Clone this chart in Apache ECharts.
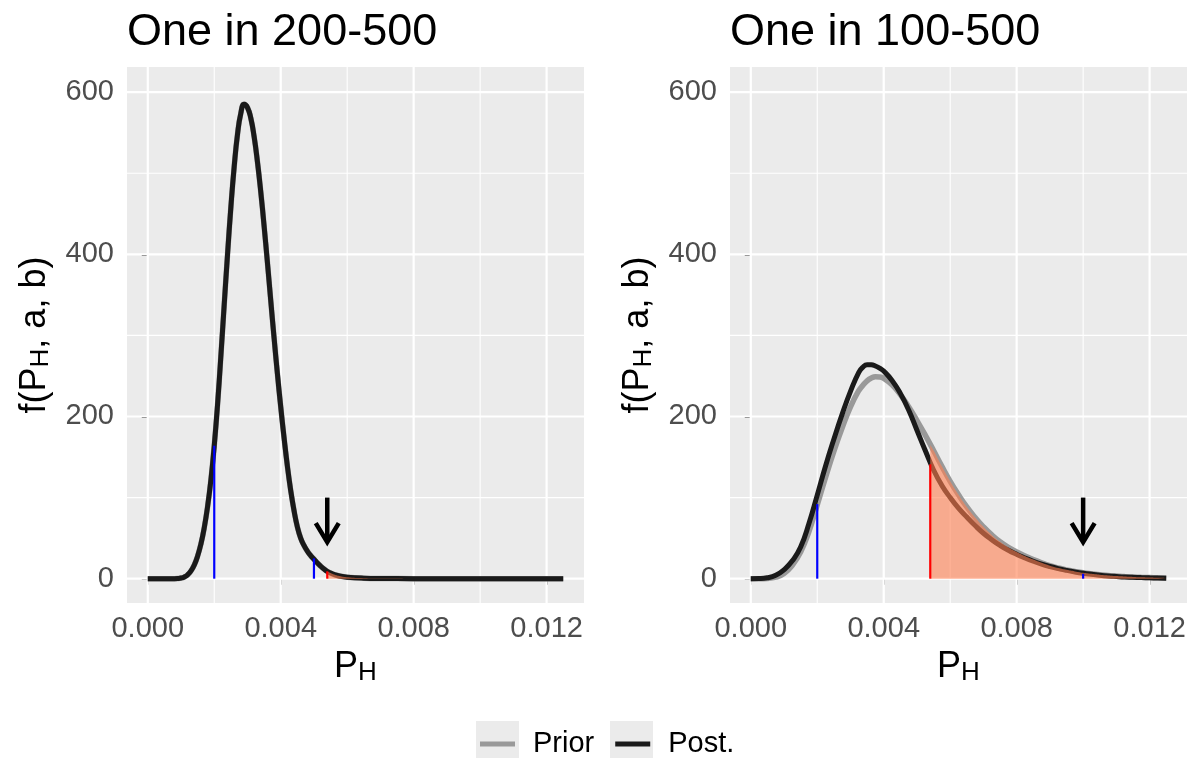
<!DOCTYPE html>
<html><head><meta charset="utf-8">
<script src="https://cdn.jsdelivr.net/npm/echarts@6/dist/echarts.min.js"></script>
<style>html,body{margin:0;padding:0;background:#fff}#c{width:1195px;height:758px}</style>
</head><body><div id="c"></div>
<script>
// ---------- data ----------
const titles = ['One in 200-500', 'One in 100-500'];
const seriesNames = ['Prior', 'Post.'];
const xTicks = [0, 0.004, 0.008, 0.012];
const xMinor = [0.002, 0.006, 0.010];
const yTicks = [0, 200, 400, 600];
const yMinor = [100, 300, 500];

const leftX = [0, 0.0005, 0.0008, 0.0009, 0.0010, 0.0011, 0.0012, 0.0013, 0.0014, 0.0015, 0.0016, 0.0017, 0.0018, 0.0019,
  0.0020, 0.0021, 0.0022, 0.0023, 0.0024, 0.0025, 0.0026, 0.0027, 0.0028, 0.0029, 0.0030, 0.0031, 0.0032, 0.0033, 0.0034,
  0.0035, 0.0036, 0.0037, 0.0038, 0.0039, 0.0040, 0.0041, 0.0042, 0.0043, 0.0044, 0.0045, 0.0046, 0.0047, 0.0048, 0.0049,
  0.0050, 0.0051, 0.0052, 0.0053, 0.0054, 0.0055, 0.0056, 0.0058, 0.0060, 0.0065, 0.0070, 0.0080, 0.0090, 0.0100, 0.0110, 0.0125];
const leftPrior = [0, 0, 0.05, 0.25, 0.8, 2.1, 4.8, 9.5, 17, 28, 43, 63, 89, 122,
  164, 215, 275, 338, 400, 458, 508, 548, 574, 585, 581, 568, 545, 514, 477,
  435, 390, 343, 297, 253, 212, 174, 139, 109, 84, 64, 50, 41, 34, 28.5,
  24, 19.5, 15.5, 12, 9, 7, 5.2, 3, 1.8, 0.6, 0.2, 0.03, 0, 0, 0, 0];
const leftPost = [0, 0, 0.05, 0.25, 0.8, 2.1, 4.8, 9.5, 17, 28, 43, 63, 89, 122,
  164, 215, 275, 338, 400, 458, 508, 548, 574, 585, 581, 568, 545, 514, 477,
  435, 390, 343, 297, 253, 212, 174, 139, 109, 84, 64, 50, 41, 34, 28.5,
  24, 19.5, 15.5, 12, 9, 7, 5.2, 3, 1.8, 0.6, 0.2, 0.03, 0, 0, 0, 0];
const leftBlue = [[0.002, 164], [0.005, 25]];
const leftRed = [[0.0054, 9]];
const leftFillStart = [0.0054, 9];
const leftArrow = [0.0054, 100, 45];

const rightX = [0, 0.00025, 0.0005, 0.00075, 0.001, 0.00125, 0.0015, 0.00175, 0.002, 0.00225, 0.0025, 0.00275,
  0.003, 0.00325, 0.003375, 0.0035, 0.003625, 0.00375, 0.003875, 0.004, 0.00425, 0.0045, 0.00475, 0.005, 0.00525, 0.0055, 0.00575,
  0.006, 0.00625, 0.0065, 0.00675, 0.007, 0.00725, 0.0075, 0.00775, 0.008, 0.00825, 0.0085, 0.00875,
  0.009, 0.00925, 0.0095, 0.00975, 0.010, 0.01025, 0.0105, 0.01075, 0.011, 0.01125, 0.0115, 0.01175,
  0.012, 0.01225, 0.0125];
const rightPrior = [0, 0, 0.3, 1.8, 6.5, 16.5, 33, 58, 91, 125, 157, 186,
  212, 232, 238.5, 244, 247.3, 249, 248.7, 247, 239, 227, 212, 195, 177, 158, 138.5,
  120, 103.5, 88.5, 75.5, 64, 54, 45.5, 38.5, 33, 28, 23.5, 19.5,
  16, 13.2, 10.9, 9, 7.3, 6, 4.9, 4, 3.2, 2.6, 2.1, 1.7,
  1.4, 1.1, 0.9];
const rightPost = [0, 0.15, 1.1, 4.2, 11, 22, 39, 68, 103, 139, 172, 203,
  231, 254.5, 261, 263.8, 263.7, 262.3, 259.7, 256, 244.5, 228.5, 208, 183, 158, 134, 115,
  100, 87, 76, 65.5, 56, 48, 41, 35, 30, 25.5, 21.5, 18,
  15, 12.4, 10.2, 8.3, 6.7, 5.4, 4.3, 3.4, 2.7, 2.1, 1.7, 1.3,
  1, 0.8, 0.6];
const rightBlue = [[0.002, 92], [0.010, 6]];
const rightRed = [[0.0054, 141]];
const rightFillStart = [0.0054, 165];
const rightArrow = [0.010, 100, 45];

// ---------- styling / layout ----------
const FONT = "'Liberation Sans', Arial, Helvetica, sans-serif";
const GRIDS = [{left: 127, top: 67, width: 457, height: 536}, {left: 730, top: 67, width: 457, height: 536}];
const XMIN = -0.000625, XMAX = 0.013125, YMIN = -30, YMAX = 631;

function pairs(xs, ys) { return xs.map((x, i) => [x, ys[i]]); }
function fillData(xs, ys, start) {
  const out = [start.slice()];
  xs.forEach((x, i) => { if (x > start[0]) out.push([x, ys[i]]); });
  return out;
}

const panels = [
  {x: leftX, prior: leftPrior, post: leftPost, blue: leftBlue, red: leftRed, fill: leftFillStart, arrow: leftArrow},
  {x: rightX, prior: rightPrior, post: rightPost, blue: rightBlue, red: rightRed, fill: rightFillStart, arrow: rightArrow}
];

const nameRich = {
  n: {fontSize: 36, fontFamily: FONT, color: '#000', lineHeight: 40, verticalAlign: 'top'},
  s: {fontSize: 26, fontFamily: FONT, color: '#000', lineHeight: 40, verticalAlign: 'top', padding: [11, 0, 0, 0]}
};

const grid = [], xAxis = [], yAxis = [], series = [], title = [];
panels.forEach((p, gi) => {
  grid.push(Object.assign({show: true, backgroundColor: '#EBEBEB', borderWidth: 0}, GRIDS[gi]));
  title.push({text: titles[gi], left: GRIDS[gi].left, top: 10, padding: 0,
    textStyle: {fontSize: 45, fontWeight: 'normal', color: '#000', fontFamily: FONT}});
  xAxis.push({
    gridIndex: gi, type: 'value', min: XMIN, max: XMAX,
    axisLine: {show: false}, splitLine: {show: false},
    axisTick: {show: true, customValues: xTicks, length: 6, lineStyle: {color: '#333', width: 2}},
    axisLabel: {customValues: xTicks, formatter: v => v.toFixed(3), fontSize: 29, color: '#4D4D4D', margin: 11, fontFamily: FONT},
    name: '{n|P}{s|H}', nameLocation: 'middle', nameGap: 46,
    nameTextStyle: {rich: nameRich}
  });
  yAxis.push({
    gridIndex: gi, type: 'value', min: YMIN, max: YMAX,
    axisLine: {show: false}, splitLine: {show: false},
    axisTick: {show: true, customValues: yTicks, length: 6, lineStyle: {color: '#333', width: 2}},
    axisLabel: {customValues: yTicks, formatter: v => String(v), fontSize: 29, color: '#4D4D4D', margin: 13, fontFamily: FONT},
    name: '{n|f(P}{s|H}{n|, a, b)}', nameLocation: 'middle', nameRotate: 90, nameGap: 70,
    nameTextStyle: {rich: nameRich}
  });
  // grid lines
  const gl = [];
  xTicks.forEach(v => gl.push([v, 0, 1]));
  xMinor.forEach(v => gl.push([v, 0, 0]));
  yTicks.forEach(v => gl.push([v, 1, 1]));
  yMinor.forEach(v => gl.push([v, 1, 0]));
  series.push({
    type: 'custom', xAxisIndex: gi, yAxisIndex: gi, z: 1, silent: true, data: gl,
    encode: {x: 0, y: 1},
    renderItem: (params, api) => {
      const v = api.value(0), isY = api.value(1), major = api.value(2);
      const cs = params.coordSys;
      let shape;
      if (isY) { const y = api.coord([0, v])[1]; shape = {x1: cs.x, y1: y, x2: cs.x + cs.width, y2: y}; }
      else { const x = api.coord([v, 0])[0]; shape = {x1: x, y1: cs.y, x2: x, y2: cs.y + cs.height}; }
      return {type: 'line', shape, style: {stroke: '#FFFFFF', lineWidth: major ? 2.2 : 1.1}};
    }
  });
  series.push({
    name: seriesNames[0], type: 'line', xAxisIndex: gi, yAxisIndex: gi, z: 2,
    data: pairs(p.x, p.prior), smooth: 0.5, symbol: 'none', showSymbol: false,
    lineStyle: {color: '#999999', width: 5.5}, itemStyle: {color: '#999999'}
  });
  series.push({
    name: seriesNames[1], type: 'line', xAxisIndex: gi, yAxisIndex: gi, z: 3,
    data: pairs(p.x, p.post), smooth: 0.5, symbol: 'none', showSymbol: false,
    lineStyle: {color: '#1A1A1A', width: 5}, itemStyle: {color: '#1A1A1A'}
  });
  series.push({
    type: 'line', xAxisIndex: gi, yAxisIndex: gi, z: 4, silent: true,
    data: fillData(p.x, p.prior, p.fill), smooth: 0.5, symbol: 'none', showSymbol: false,
    lineStyle: {width: 0}, areaStyle: {color: 'rgb(255,127,80)', opacity: 0.6}
  });
  const segs = p.blue.map(d => [d[0], d[1], 0]).concat(p.red.map(d => [d[0], d[1], 1]));
  series.push({
    type: 'custom', xAxisIndex: gi, yAxisIndex: gi, z: 5, silent: true, data: segs,
    encode: {x: 0, y: 1},
    renderItem: (params, api) => {
      const a = api.coord([api.value(0), 0]), b = api.coord([api.value(0), api.value(1)]);
      return {type: 'line', shape: {x1: a[0], y1: a[1], x2: b[0], y2: b[1]},
        style: {stroke: api.value(2) ? '#FF0000' : '#0000FF', lineWidth: 2.2}};
    }
  });
  series.push({
    type: 'custom', xAxisIndex: gi, yAxisIndex: gi, z: 6, silent: true, data: [p.arrow],
    encode: {x: 0, y: [1, 2]},
    renderItem: (params, api) => {
      const t = api.coord([api.value(0), api.value(1)]), e = api.coord([api.value(0), api.value(2)]);
      return {type: 'group', children: [
        {type: 'line', shape: {x1: t[0], y1: t[1], x2: e[0], y2: e[1] - 2}, style: {stroke: '#000', lineWidth: 4.5}},
        {type: 'polyline', shape: {points: [[e[0] - 11.5, e[1] - 19], [e[0], e[1]], [e[0] + 11.5, e[1] - 19]]},
          style: {stroke: '#000', lineWidth: 4.5, fill: null, lineJoin: 'miter'}}
      ]};
    }
  });
});

const chart = echarts.init(document.getElementById('c'), null, {renderer: 'canvas'});
chart.setOption({
  animation: false,
  backgroundColor: '#FFFFFF',
  title, grid, xAxis, yAxis, series,
  legend: {
    data: [{name: seriesNames[0], icon: 'rect', itemStyle: {color: '#999999'}},
           {name: seriesNames[1], icon: 'rect', itemStyle: {color: '#1A1A1A'}}],
    left: 480, top: 729.5, padding: 0, itemWidth: 35, itemHeight: 5, itemGap: 21,
    selectedMode: false, z: 5,
    textStyle: {fontSize: 29, color: '#000', fontFamily: FONT, padding: [0, 0, 0, 13]}
  },
  graphic: [
    {type: 'rect', z: 0, silent: true, shape: {x: 476, y: 721, width: 43, height: 43}, style: {fill: '#EBEBEB'}},
    {type: 'rect', z: 0, silent: true, shape: {x: 610, y: 721, width: 43, height: 43}, style: {fill: '#EBEBEB'}}
  ]
});
</script></body></html>
